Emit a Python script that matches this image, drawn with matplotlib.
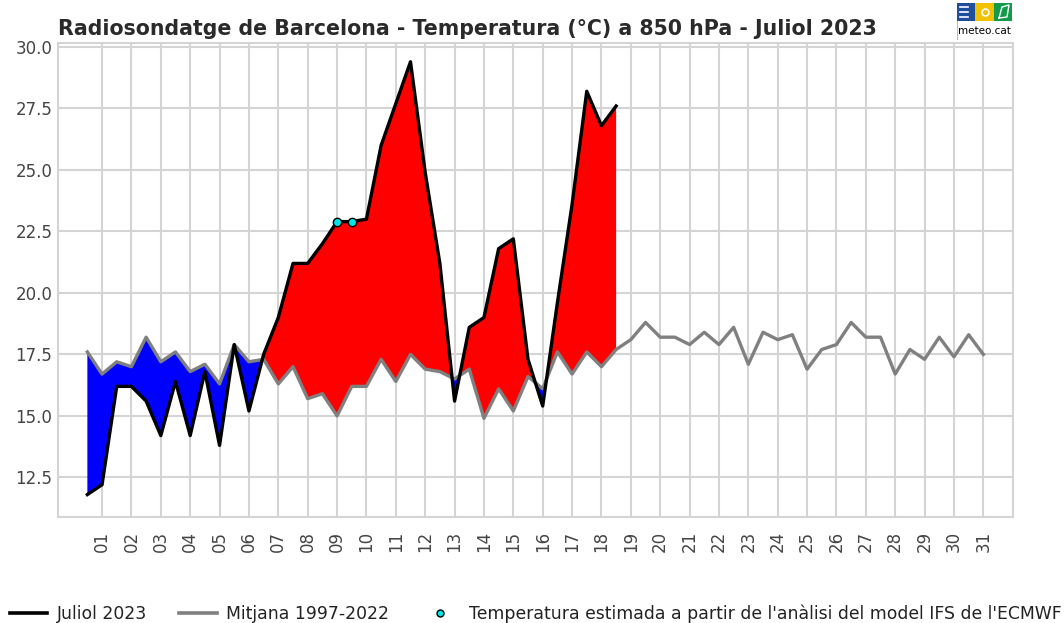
import matplotlib
matplotlib.use("Agg")
import matplotlib.pyplot as plt
import numpy as np
from matplotlib.lines import Line2D
from matplotlib.patches import Rectangle

# Twice-daily soundings (00 and 12 UTC), July 2023 up to the 19th at 00 UTC
july2023 = [11.8, 12.2, 16.2, 16.2, 15.6, 14.2, 16.4, 14.2, 16.8, 13.8,
            17.9, 15.2, 17.5, 19.0, 21.2, 21.2, 22.0, 22.9, 22.9, 23.0,
            26.0, 27.7, 29.4, 24.9, 21.2, 15.6, 18.6, 19.0, 21.8, 22.2,
            17.3, 15.4, 19.6, 23.6, 28.2, 26.8, 27.6]

# Mean 1997-2022, same time steps for the whole month
mean_9722 = [17.6, 16.7, 17.2, 17.0, 18.2, 17.2, 17.6, 16.8, 17.1, 16.3,
             17.9, 17.2, 17.3, 16.3, 17.0, 15.7, 15.9, 15.0, 16.2, 16.2,
             17.3, 16.4, 17.5, 16.9, 16.8, 16.5, 16.9, 14.9, 16.1, 15.2,
             16.6, 16.1, 17.6, 16.7, 17.6, 17.0, 17.7, 18.1, 18.8, 18.2,
             18.2, 17.9, 18.4, 17.9, 18.6, 17.1, 18.4, 18.1, 18.3, 16.9,
             17.7, 17.9, 18.8, 18.2, 18.2, 16.7, 17.7, 17.3, 18.2, 17.4,
             18.3, 17.5]

# soundings replaced by the ECMWF IFS analysis
estimated_idx = [17, 18]

day_labels = [f"{d:02d}" for d in range(1, 32)]

x_mean = np.arange(len(mean_9722)) * 0.5
x_obs = np.arange(len(july2023)) * 0.5
obs = np.array(july2023)
ref = np.array(mean_9722[:len(july2023)])

fig = plt.figure(figsize=(10.64, 6.23), dpi=100)
ax = fig.add_axes([0.0545, 0.1706, 0.8973, 0.7599])

ax.fill_between(x_obs, obs, ref, where=obs >= ref, interpolate=True,
                color="#ff0000", linewidth=0)
ax.fill_between(x_obs, obs, ref, where=obs <= ref, interpolate=True,
                color="#0000ff", linewidth=0)
ax.plot(x_mean, mean_9722, color="gray", lw=2.4, zorder=3)
ax.plot(x_obs, july2023, color="black", lw=2.4, zorder=4)
ax.plot(x_obs[estimated_idx], obs[estimated_idx], "o", ms=6,
        mfc="#00e5e5", mec="black", mew=1.0, zorder=5)

ax.set_xlim(-1.0, 31.5)
ax.set_ylim(10.9, 30.15)
ax.set_xticks(np.arange(31) + 0.5)
ax.set_xticklabels(day_labels, rotation=90)
ax.set_yticks(np.arange(12.5, 30.1, 2.5))
ax.yaxis.set_major_formatter(matplotlib.ticker.FormatStrFormatter("%.1f"))
ax.tick_params(axis="both", length=0, labelsize=12, colors="#444444")
ax.tick_params(axis="x", pad=10)
ax.tick_params(axis="y", pad=4)
ax.grid(True, color="#d4d4d4", lw=1.5)
ax.set_axisbelow(True)
for s in ax.spines.values():
    s.set_color("#d4d4d4")
    s.set_linewidth(1.5)

ax.set_title("Radiosondatge de Barcelona - Temperatura (°C) a 850 hPa - Juliol 2023",
             loc="left", fontsize=14.8, fontweight="bold", color="#2a2a2a", pad=6)

handles = [
    Line2D([], [], color="black", lw=2.6),
    Line2D([], [], color="gray", lw=2.6),
    Line2D([], [], ls="", marker="o", ms=5, mfc="#00e5e5", mec="black", mew=1.0),
]
labels = ["Juliol 2023", "Mitjana 1997-2022",
          "Temperatura estimada a partir de l'anàlisi del model IFS de l'ECMWF"]
ax.legend(handles, labels, loc="center", bbox_to_anchor=(0.5, -0.205), ncol=3,
          frameon=False, fontsize=12.4, handlelength=2.2, columnspacing=1.85,
          handletextpad=0.55, labelcolor="#222222", borderpad=0.1)

# meteo.cat logo
lg = fig.add_axes([957 / 1064, 1 - 40 / 623, 55 / 1064, 37 / 623])
lg.set_xlim(0, 55)
lg.set_ylim(0, 37)
lg.axis("off")
lg.add_patch(Rectangle((0, 0), 55, 37, fc="white", ec="#bbbbbb", lw=0.8))
lg.add_patch(Rectangle((0, 19), 18, 18, fc="#1f4f9c", ec="none"))
lg.add_patch(Rectangle((18, 19), 19, 18, fc="#f2c200", ec="none"))
lg.add_patch(Rectangle((37, 19), 18, 18, fc="#139a4a", ec="none"))
for yy in (23, 28, 33):
    lg.plot([3, 11], [yy, yy], color="white", lw=1.2)
lg.plot(27.5, 28, "o", ms=5, mfc="none", mec="white", mew=1.2)
lg.plot([42, 45, 52, 50, 42], [22, 33, 35, 23, 22], color="white", lw=1.0)
lg.text(27.5, 9, "meteo.cat", ha="center", va="center", fontsize=7.5,
        color="black")

fig.savefig("out.png", dpi=100)
